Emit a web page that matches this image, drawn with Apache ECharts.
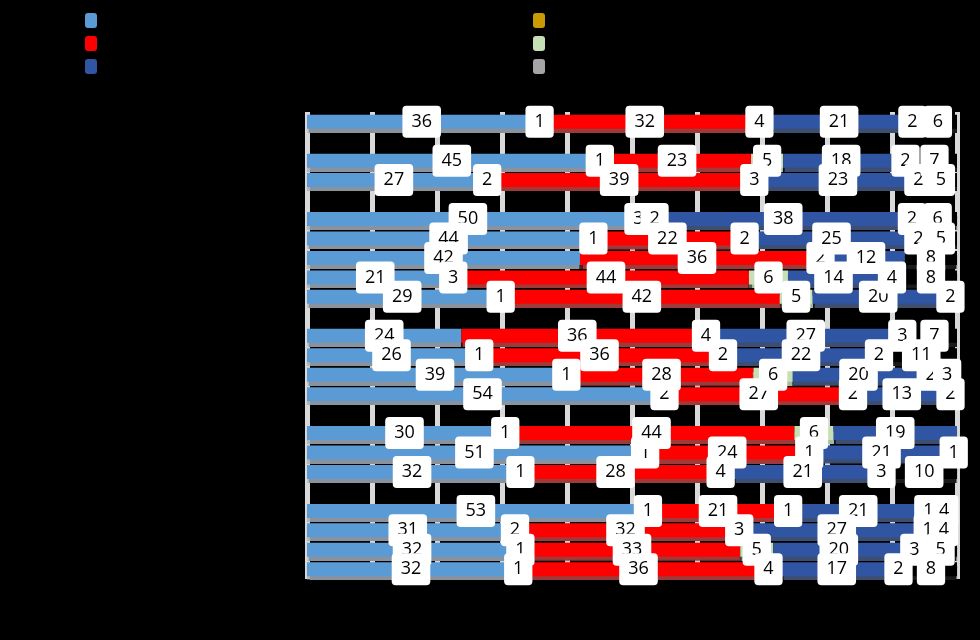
<!DOCTYPE html>
<html>
<head>
<meta charset="utf-8">
<script src="https://cdn.jsdelivr.net/npm/echarts@6/dist/echarts.min.js"></script>
<style>
  html, body { margin: 0; padding: 0; background: #000; }
  #chart { width: 980px; height: 640px; }
</style>
</head>
<body>
<div id="chart"></div>
<script>
// rows top to bottom, '' rows are the gaps between groups
var categories = ['Total', '', 'Men', 'Women', '', '16-24', '25-34', '35-44', '45-54', '55+', '',
    'Region A', 'Region B', 'Region C', 'Region D', '', 'Low', 'Medium', 'High', '',
    'Group 1', 'Group 2', 'Group 3', 'Group 4'];

var seriesNames = ['Answer 1', 'Answer 2', 'Answer 3', 'Answer 4', 'Answer 5', 'Answer 6', 'No answer'];
var seriesColors = ['#5b9bd5', '#c99a06', '#ff0000', '#c5e0b4', '#2f55a3', '#a5a5a5', '#000000'];
var shadowColors = ['#8a939d', '#8f7a40', '#9e3a3a', '#a9b9a2', '#3e4e70', '#8a8a8a', '#1a1a1a'];

var lightBlue  = [36, null, 45, 27, null, 50, 44, 42, 21, 29, null, 24, 26, 39, 54, null, 30, 51, 32, null, 53, 31, 32, 32];
var gold       = [1,  null, 1,  2,  null, 3,  1,  0,  3,  1,  null, 0,  1,  1,  2,  null, 1,  1,  1,  null, 1,  2,  1,  1];
var red        = [32, null, 23, 39, null, 2,  22, 36, 44, 42, null, 36, 36, 28, 27, null, 44, 24, 28, null, 21, 32, 33, 36];
var lightGreen = [4,  null, 5,  3,  null, 0,  2,  2,  6,  5,  null, 4,  2,  6,  2,  null, 6,  1,  4,  null, 1,  3,  5,  4];
var darkBlue   = [21, null, 18, 23, null, 38, 25, 12, 14, 20, null, 27, 22, 20, 13, null, 19, 21, 21, null, 21, 27, 20, 17];
var grey       = [2,  null, 2,  2,  null, 2,  2,  0,  4,  2,  null, 3,  2,  2,  2,  null, 0,  1,  3,  null, 1,  1,  3,  2];
var black      = [6,  null, 7,  5,  null, 6,  5,  8,  8,  0,  null, 7,  11, 3,  0,  null, 0,  0,  10, null, 4,  4,  5,  8];

var raw = [lightBlue, gold, red, lightGreen, darkBlue, grey, black];

// 100% stacked: each row is scaled to its own total, labels keep the raw value
var rowSum = categories.map(function (c, i) {
    var s = 0;
    raw.forEach(function (arr) { s += arr[i] || 0; });
    return s;
});

var series = raw.map(function (arr, k) {
    return {
        name: seriesNames[k],
        type: 'bar',
        stack: 'total',
        barWidth: 14,
        itemStyle: {
            color: seriesColors[k],
            shadowColor: shadowColors[k],
            shadowOffsetY: 4,
            shadowBlur: 1
        },
        label: {
            show: true,
            position: 'inside',
            formatter: function (p) { return String(raw[k][p.dataIndex]); },
            color: '#000',
            fontFamily: 'Open Sans',
            fontSize: 18,
            lineHeight: 20,
            backgroundColor: '#fff',
            padding: [6, 9],
            borderRadius: 4
        },
        data: arr.map(function (v, i) {
            if (!v) return '-';
            return v / rowSum[i] * 100;
        })
    };
});

var chart = echarts.init(document.getElementById('chart'));
chart.setOption({
    backgroundColor: '#000',
    animation: false,
    legend: [{
        data: [seriesNames[0], seriesNames[2], seriesNames[4], seriesNames[6]],
        orient: 'vertical',
        left: 80,
        top: 8,
        itemWidth: 12,
        itemHeight: 15,
        itemGap: 8,
        textStyle: { color: '#000', fontFamily: 'Open Sans', fontSize: 14 }
    }, {
        data: [seriesNames[1], seriesNames[3], seriesNames[5]],
        orient: 'vertical',
        left: 528,
        top: 8,
        itemWidth: 12,
        itemHeight: 15,
        itemGap: 8,
        textStyle: { color: '#000', fontFamily: 'Open Sans', fontSize: 14 }
    }],
    grid: { left: 307, right: 23, top: 112, bottom: 61 },
    xAxis: {
        type: 'value',
        min: 0,
        max: 100,
        interval: 10,
        axisLine: { show: false },
        axisTick: { show: false },
        axisLabel: { color: '#000', formatter: '{value}%', fontFamily: 'Open Sans', fontSize: 14 },
        splitLine: { lineStyle: { color: '#d9d9d9', width: 5 } }
    },
    yAxis: {
        type: 'category',
        inverse: true,
        data: categories,
        axisLine: { show: false },
        axisTick: { show: false },
        axisLabel: { color: '#000', fontFamily: 'Open Sans', fontSize: 14 }
    },
    series: series
});
</script>
</body>
</html>
